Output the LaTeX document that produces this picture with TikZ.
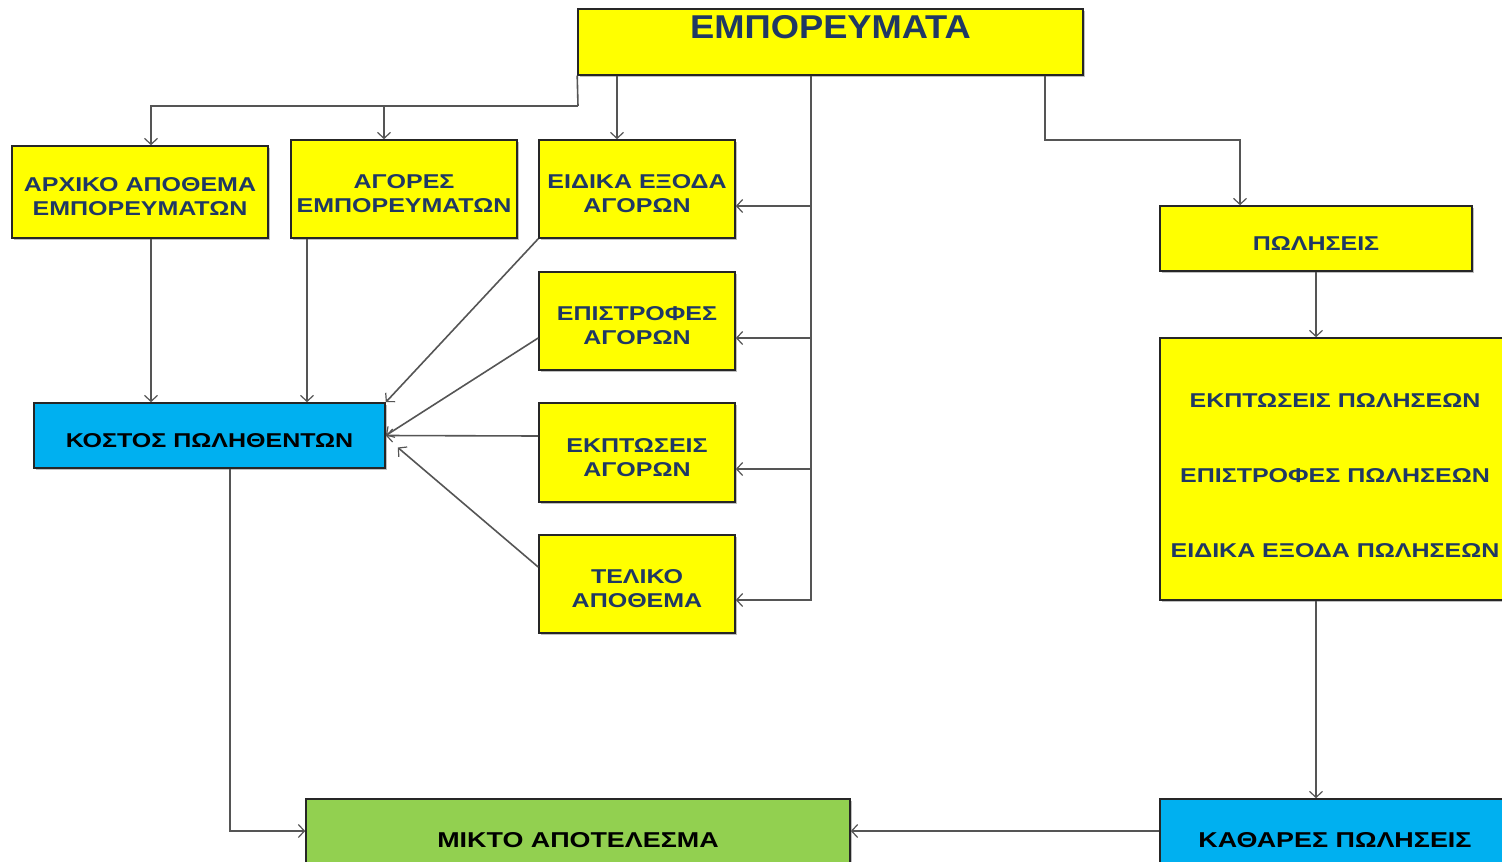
\documentclass[tikz,border=0pt]{standalone}
\usepackage{fontspec}
\setmainfont{Liberation Sans}
\newfontfamily\boxfont[FakeStretch=1.25]{Liberation Sans}
\newfontfamily\titlefont[FakeStretch=1.1]{Liberation Sans}
\usetikzlibrary{arrows.meta,calc,shadows}
\definecolor{yfill}{HTML}{FFFF00}
\definecolor{bfill}{HTML}{00B0F0}
\definecolor{gfill}{HTML}{92D050}
\definecolor{navy}{HTML}{1F3864}
\definecolor{linec}{HTML}{555555}
\newcommand\lowstrut[1][23.5pt]{\rule{0pt}{#1}}
\begin{document}
\begin{tikzpicture}[x=1pt,y=-1pt,
  basebox/.style={draw=black!85, line width=1.6pt, align=center, inner sep=0pt,
    drop shadow={shadow xshift=2pt,shadow yshift=-2pt,fill=black,opacity=0.25}},
  ybx/.style={basebox, fill=yfill, text=navy, font=\boxfont\bfseries\fontsize{20}{24}\selectfont},
  bbx/.style={basebox, fill=bfill, text=black, font=\boxfont\bfseries\fontsize{20}{24}\selectfont},
  gbx/.style={basebox, fill=gfill, text=black, font=\boxfont\bfseries\fontsize{21.5}{26}\selectfont},
  line/.style={draw=linec, line width=1.6pt},
  conn/.style={line, -{Straight Barb[length=6pt,width=13pt,line width=1.2pt]}}
]
\fill[white] (0,0) rectangle (1502,862);
\useasboundingbox (0,0) rectangle (1502,862);
\clip (0,0) rectangle (1502,862);

% nodes
\node[basebox, fill=yfill, text=navy, font=\titlefont\bfseries\fontsize{33}{38}\selectfont, minimum width=505pt,
      text height=24pt, text depth=30pt, inner ysep=6pt, anchor=north] (emp) at (830.5,8) {ΕΜΠΟΡΕΥΜΑΤΑ};
\node[ybx, minimum width=256pt, minimum height=92pt] (arx) at (140,192) {\lowstrut ΑΡΧΙΚΟ ΑΠΟΘΕΜΑ\\ΕΜΠΟΡΕΥΜΑΤΩΝ};
\node[ybx, minimum width=226pt, minimum height=98pt] (agor) at (404,189) {\lowstrut ΑΓΟΡΕΣ\\ΕΜΠΟΡΕΥΜΑΤΩΝ};
\node[ybx, minimum width=196pt, minimum height=98pt] (eid) at (637,189) {\lowstrut ΕΙΔΙΚΑ ΕΞΟΔΑ\\ΑΓΟΡΩΝ};
\node[ybx, minimum width=196pt, minimum height=98pt] (epi) at (637,321) {\lowstrut ΕΠΙΣΤΡΟΦΕΣ\\ΑΓΟΡΩΝ};
\node[ybx, minimum width=196pt, minimum height=99pt] (ekp) at (637,452.5) {\lowstrut ΕΚΠΤΩΣΕΙΣ\\ΑΓΟΡΩΝ};
\node[ybx, minimum width=196pt, minimum height=98pt] (tel) at (637,584) {\lowstrut ΤΕΛΙΚΟ\\ΑΠΟΘΕΜΑ};
\node[bbx, minimum width=351pt, minimum height=65pt] (kos) at (209.5,435.5) {\lowstrut ΚΟΣΤΟΣ ΠΩΛΗΘΕΝΤΩΝ};
\node[ybx, minimum width=312pt, minimum height=65pt] (pol) at (1316,238.5) {\lowstrut ΠΩΛΗΣΕΙΣ};
\node[ybx, minimum width=350pt, minimum height=262pt] (big) at (1335,469)
  {\lowstrut[28pt]ΕΚΠΤΩΣΕΙΣ ΠΩΛΗΣΕΩΝ\\[51pt]ΕΠΙΣΤΡΟΦΕΣ ΠΩΛΗΣΕΩΝ\\[51pt]ΕΙΔΙΚΑ ΕΞΟΔΑ ΠΩΛΗΣΕΩΝ};
\node[gbx, minimum width=544pt, minimum height=82pt] (mikt) at (578,840) {ΜΙΚΤΟ ΑΠΟΤΕΛΕΣΜΑ};
\node[gbx, fill=bfill, minimum width=350pt, minimum height=82pt] (kath) at (1335,840) {ΚΑΘΑΡΕΣ ΠΩΛΗΣΕΙΣ};

% helper coordinates
\coordinate (j1) at (578,106);
\coordinate (arxIn) at ($(arx.north)+(11,0)$);
\coordinate (agorIn) at ($(agor.north)+(-20,0)$);
\coordinate (eidTop) at ($(eid.north)+(-20,0)$);
\coordinate (bus) at (811,0);
\coordinate (eidR) at ($(eid.east)+(0,17)$);
\coordinate (epiR) at ($(epi.east)+(0,17)$);
\coordinate (ekpR) at ($(ekp.east)+(0,16.5)$);
\coordinate (telR) at ($(tel.east)+(0,16)$);
\coordinate (e2) at (1045,0);
\coordinate (r1) at (1045,140);
\coordinate (polIn) at ($(pol.north)+(-76,0)$);
\coordinate (epiL) at ($(epi.west)+(0,17)$);
\coordinate (ekpL) at ($(ekp.west)+(0,-16.5)$);
\coordinate (telL) at ($(tel.west)+(0,-17)$);
\coordinate (telEnd) at ($(kos.east)+(12,12)$);
\coordinate (kathL) at ($(kath.west)+(0,-9)$);
\coordinate (miktR) at ($(mikt.east)+(0,-9)$);
\coordinate (miktL) at ($(mikt.west)+(0,-9)$);
\coordinate (kosOut) at ($(kos.south)+(20.5,0)$);
\coordinate (arxOut) at ($(arx.south)+(11,0)$);
\coordinate (agorOut) at ($(agor.south)+(-97,0)$);

% connectors from ΕΜΠΟΡΕΥΜΑΤΑ
\draw[line] (emp.south west) -- (j1);
\draw[conn] (j1) -| (arxIn);
\draw[conn] (agorIn |- j1) -- (agorIn);
\draw[conn] (eidTop |- emp.south) -- (eidTop);
\draw[conn] (bus |- emp.south) |- (telR);
\draw[conn] (bus |- eidR) -- (eidR);
\draw[conn] (bus |- epiR) -- (epiR);
\draw[conn] (bus |- ekpR) -- (ekpR);
\draw[conn] (e2 |- emp.south) -- (r1) -| (polIn);

% into ΚΟΣΤΟΣ ΠΩΛΗΘΕΝΤΩΝ
\draw[conn] (arxOut) -- (arxOut |- kos.north);
\draw[conn] (agorOut) -- (agorOut |- kos.north);
\draw[conn] (eid.south west) -- (kos.north east);
\draw[conn] (epiL) -- (kos.east);
\draw[conn] (ekpL) -- (kos.east);
\draw[conn] (telL) -- (telEnd);

% right column
\draw[conn] (pol.south) -- (pol.south |- big.north);
\draw[conn] (pol.south |- big.south) -- (pol.south |- kath.north);
\draw[conn] (kathL) -- (miktR);
\draw[conn] (kosOut) |- (miktL);
\end{tikzpicture}
\end{document}
